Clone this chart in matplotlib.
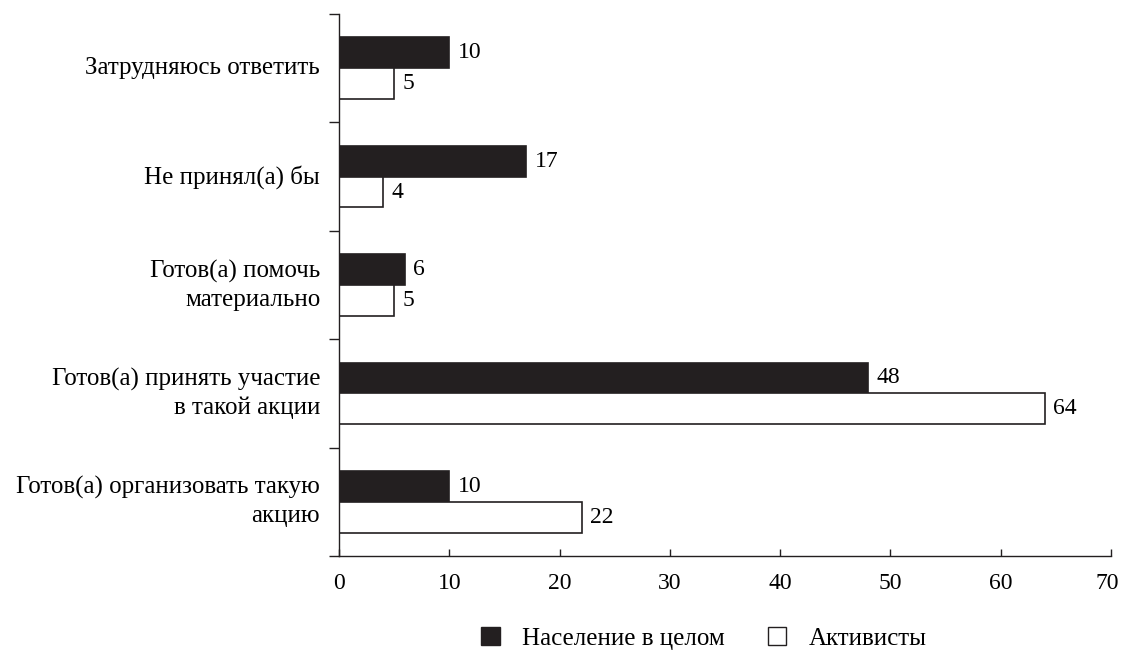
import numpy as np
import matplotlib
matplotlib.use("Agg")
import matplotlib.pyplot as plt
import matplotlib.transforms as mtrans
from matplotlib.patches import Patch

# data (bottom to top)
categories = ["Готов(а) организовать такую\nакцию",
              "Готов(а) принять участие\nв такой акции",
              "Готов(а) помочь\nматериально",
              "Не принял(а) бы",
              "Затрудняюсь ответить"]
population = [10, 48, 6, 17, 10]
activists = [22, 64, 5, 4, 5]
series_names = ["Население в целом", "Активисты"]

plt.rcParams['font.family'] = ['Liberation Serif', 'DejaVu Serif']
fs = 18     # category labels / legend
fs_num = 17  # numbers

fig = plt.figure(figsize=(11.21, 6.5), dpi=100)
ax = fig.add_axes([0.3024, 0.1446, 0.6887, 0.8339])

y = np.arange(len(categories))
h = 0.285
ax.barh(y + h/2, population, height=h, color='#231f20', edgecolor='#231f20', lw=1.2)
ax.barh(y - h/2, activists, height=h, color='white', edgecolor='#231f20', lw=1.2)

for yi, v in zip(y, population):
    ax.text(v + 0.75, yi + h/2, str(v), va='center', ha='left', fontsize=fs_num)
for yi, v in zip(y, activists):
    ax.text(v + 0.75, yi - h/2, str(v), va='center', ha='left', fontsize=fs_num)

ax.set_xlim(0, 70)
ax.set_ylim(-0.5, len(categories) - 0.5)
ax.set_xticks(np.arange(0, 71, 10))
ax.tick_params(axis='x', direction='in', length=5, width=1, pad=12, labelsize=fs_num, color='#231f20')
# last tick label sits a bit left so it stays inside the picture
last = ax.get_xticklabels()[-1]
last.set_transform(last.get_transform() + mtrans.ScaledTranslation(-4/100, 0, fig.dpi_scale_trans))

# category ticks at boundaries, labels at centers
ax.set_yticks(np.arange(-0.5, len(categories), 1))
ax.set_yticklabels([])
ax.tick_params(axis='y', direction='out', length=7, width=1, color='#231f20')
for yi, lab in zip(y, categories):
    ax.text(-1.7, yi, lab, ha='right', va='center', fontsize=fs,
            multialignment='right', linespacing=1.35)

ax.spines['top'].set_visible(False)
ax.spines['right'].set_visible(False)
for s in ['left', 'bottom']:
    ax.spines[s].set_color('#231f20')
    ax.spines[s].set_linewidth(1)

handles = [Patch(facecolor='#231f20', edgecolor='#231f20'),
           Patch(facecolor='white', edgecolor='#231f20')]
fig.legend(handles, series_names, loc='center', bbox_to_anchor=(0.628, 0.018),
           ncol=2, frameon=False, fontsize=fs, handlelength=0.75, handleheight=0.75,
           columnspacing=1.7, handletextpad=0.9)

fig.savefig("out.png", dpi=100)
